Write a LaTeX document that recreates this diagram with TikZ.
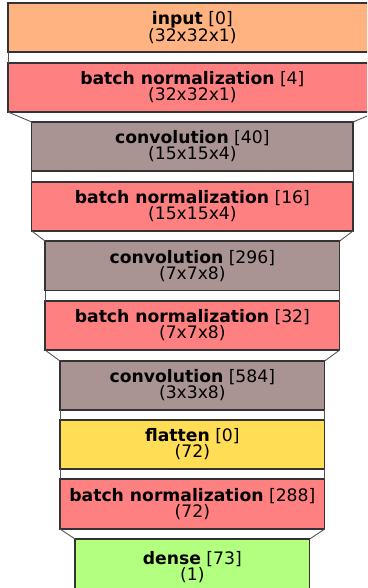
\documentclass[tikz,border=0pt]{standalone}
\usepackage{fontspec}
\setmainfont{DejaVu Sans}
\definecolor{cinput}{HTML}{FFB380}
\definecolor{cbn}{HTML}{FF8080}
\definecolor{cconv}{HTML}{AA9393}
\definecolor{cflat}{HTML}{FFDD55}
\definecolor{cdense}{HTML}{B3FF80}
\definecolor{cedge}{HTML}{333333}
\definecolor{clink}{HTML}{555555}
\tikzset{
  layerbox/.style={draw=cedge, line width=1.2pt, rectangle, inner sep=0pt, outer sep=0pt, align=center,
    font=\fontsize{17.2}{16}\selectfont, anchor=north west},
  link/.style={draw=clink, line width=0.9pt},
}
\newcommand{\layerbox}[8]{%
  % #1 name, #2 xl, #3 xr, #4 top, #5 bottom, #6 colour, #7 bold, #8 rest
  \node[layerbox, fill=#6, minimum width={(#3-#2)*1pt}, minimum height={(#5-#4)*1pt}]
    (#1) at (#2,#4) {#7\\#8};
}
\begin{document}
\begin{tikzpicture}[x=1pt,y=-1pt]
\useasboundingbox (0,0) rectangle (367,588);
\clip (0,0) rectangle (367,588);
\layerbox{l1}{8}{376.7}{3}{52}{cinput}{\textbf{input} [0]}{(32x32x1)}
\layerbox{l2}{8}{376.7}{63}{112}{cbn}{\textbf{batch normalization} [4]}{(32x32x1)}
\layerbox{l3}{31.7}{353}{122}{171}{cconv}{\textbf{convolution} [40]}{(15x15x4)}
\layerbox{l4}{31.7}{353}{182}{231}{cbn}{\textbf{batch normalization} [16]}{(15x15x4)}
\layerbox{l5}{45}{339.7}{241}{290.5}{cconv}{\textbf{convolution} [296]}{(7x7x8)}
\layerbox{l6}{45}{339.7}{301}{350}{cbn}{\textbf{batch normalization} [32]}{(7x7x8)}
\layerbox{l7}{60}{324.7}{361}{410}{cconv}{\textbf{convolution} [584]}{(3x3x8)}
\layerbox{l8}{60}{324.7}{420}{469}{cflat}{\textbf{flatten} [0]}{(72)}
\layerbox{l9}{60}{324.7}{479}{529}{cbn}{\textbf{batch normalization} [288]}{(72)}
\layerbox{l10}{75}{309.7}{539}{596}{cdense}{\textbf{dense} [73]}{(1)}
\foreach \a/\b in {l1/l2,l2/l3,l3/l4,l4/l5,l5/l6,l6/l7,l7/l8,l8/l9,l9/l10}{
  \draw[link] (\a.south west) -- (\b.north west);
  \draw[link] (\a.south east) -- (\b.north east);
}
\end{tikzpicture}
\end{document}
